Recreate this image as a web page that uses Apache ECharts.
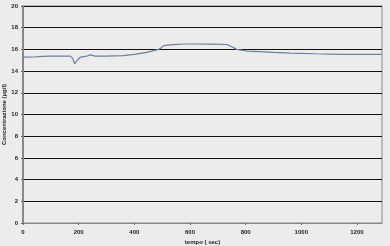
<!DOCTYPE html>
<html><head><meta charset="utf-8">
<script src="https://cdn.jsdelivr.net/npm/echarts@6/dist/echarts.min.js"></script>
<style>html,body{margin:0;padding:0;background:#ececec}#c{width:390px;height:246px}</style>
</head><body><div id="c"></div>
<script>
var times = [0, 40, 69, 100, 170, 178, 186, 195, 206, 225, 242, 260, 300, 360, 400, 445, 481, 495, 503, 511, 540, 580, 620, 680, 733, 750, 768, 805, 850, 900, 959, 1050, 1138, 1200, 1290];
var conc  = [15.28, 15.3, 15.36, 15.38, 15.38, 15.2, 14.68, 15.0, 15.28, 15.35, 15.5, 15.38, 15.38, 15.42, 15.55, 15.72, 15.95, 16.1, 16.3, 16.37, 16.44, 16.5, 16.5, 16.48, 16.45, 16.25, 16.0, 15.85, 15.8, 15.72, 15.66, 15.6, 15.55, 15.55, 15.55];
var yTicks = [0, 2, 4, 6, 8, 10, 12, 14, 16, 18, 20];
var xTicks = [0, 200, 400, 600, 800, 1000, 1200];
var xTitle = 'tempo ( sec)';
var yTitle = 'Concentrazione (µg/l)';

var data = times.map(function (t, i) { return [t, conc[i]]; });
var chart = echarts.init(document.getElementById('c'), null, {renderer: 'canvas'});
var lab = {fontFamily: 'Liberation Sans', fontSize: 6, color: '#222', fontWeight: 'bold'};
chart.setOption({
  backgroundColor: '#ececec',
  animation: false,
  grid: {left: 23, right: 8, top: 6, bottom: 23, containLabel: false, outerBoundsMode: 'none', show: true, borderColor: '#888', borderWidth: 1, backgroundColor: '#ececec'},
  xAxis: {
    type: 'value', min: 0, max: 1290, interval: 200,
    name: xTitle, nameLocation: 'middle', nameGap: 16, nameMoveOverlap: false,
    nameTextStyle: lab,
    axisLine: {show: true, lineStyle: {color: '#888', width: 1}},
    axisTick: {show: true, length: 2, lineStyle: {color: '#666'}},
    axisLabel: Object.assign({margin: 6, showMaxLabel: false, formatter: function (v) { return xTicks.indexOf(v) >= 0 ? String(v) : ''; }}, lab),
    splitLine: {show: false}
  },
  yAxis: {
    type: 'value', min: 0, max: 20, interval: 2,
    name: yTitle, nameLocation: 'middle', nameGap: 16, nameMoveOverlap: false,
    nameTextStyle: lab,
    axisLine: {show: true, lineStyle: {color: '#888', width: 2}},
    axisTick: {show: true, length: 2, lineStyle: {color: '#666'}},
    axisLabel: Object.assign({margin: 5, formatter: function (v) { return yTicks.indexOf(v) >= 0 ? String(v) : ''; }}, lab),
    splitLine: {show: true, lineStyle: {color: '#111', width: 1}}
  },
  series: [{
    type: 'line', data: data, symbol: 'none', smooth: false,
    lineStyle: {color: '#6b7f9e', width: 1.2}
  }]
});
</script></body></html>
